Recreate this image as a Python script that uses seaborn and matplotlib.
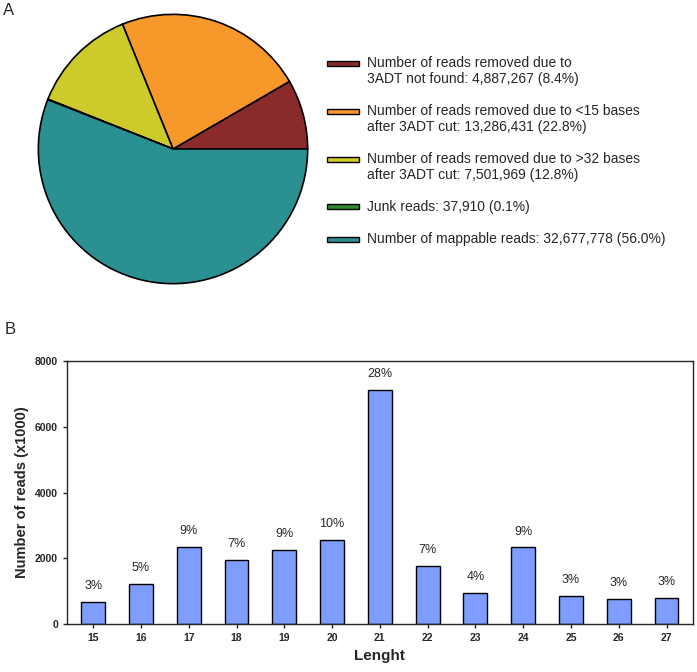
import numpy as np
import pandas as pd
import matplotlib
matplotlib.use("Agg")
import matplotlib.pyplot as plt
import seaborn as sns
from matplotlib.patches import Rectangle

# -----------------------------------
# Data
# -----------------------------------
pie_labels = [
    "Number of reads removed due to\n3ADT not found: 4,887,267 (8.4%)",
    "Number of reads removed due to <15 bases\nafter 3ADT cut: 13,286,431 (22.8%)",
    "Number of reads removed due to >32 bases\nafter 3ADT cut: 7,501,969 (12.8%)",
    "Junk reads: 37,910 (0.1%)",
    "Number of mappable reads: 32,677,778 (56.0%)",
]
pie_values = [4887267, 13286431, 7501969, 37910, 32677778]
pie_colors = ["#8b2a2b", "#f7982b", "#cccb2b", "#2f8a2f", "#2b9091"]

lengths = ["15", "16", "17", "18", "19", "20", "21", "22", "23", "24", "25", "26", "27"]
reads_k = [690, 1220, 2345, 1950, 2265, 2560, 7125, 1775, 965, 2335, 863, 772, 792]
pct_labels = ["3%", "5%", "9%", "7%", "9%", "10%", "28%", "7%", "4%", "9%", "3%", "3%", "3%"]

sns.set_style("ticks")
plt.rcParams["font.family"] = ["Liberation Sans", "DejaVu Sans"]

W, H = 697, 672
fig = plt.figure(figsize=(W / 100, H / 100), dpi=100)

# -----------------------------------
# Panel A: pie
# -----------------------------------
cx, cy, r = 173, 149, 136
ax_pie = fig.add_axes([(cx - r) / W, (H - cy - r) / H, 2 * r / W, 2 * r / H])
ax_pie.pie(
    pie_values, colors=pie_colors, startangle=0, counterclock=True,
    wedgeprops=dict(edgecolor="black", linewidth=1.2),
)
ax_pie.set_xlim(-1.01, 1.01)
ax_pie.set_ylim(-1.01, 1.01)
ax_pie.set_aspect("equal")

# legend: handle aligned with the first text line of each entry
line_step = 16
y = 63
for col, lab in zip(pie_colors, pie_labels):
    fig.add_artist(Rectangle(((327) / W, (H - y - 2.5) / H), 32 / W, 5 / H,
                             facecolor=col, edgecolor="black", linewidth=1.0,
                             transform=fig.transFigure))
    lines = lab.split("\n")
    for k, ln in enumerate(lines):
        fig.text(367 / W, (H - y - k * line_step) / H, ln, fontsize=10,
                 va="center", ha="left")
    y += len(lines) * line_step + line_step

fig.text(0.004, 1 - 3 / H, "A", fontsize=12, va="top")

# -----------------------------------
# Panel B: bar chart
# -----------------------------------
df = pd.DataFrame({"Lenght": lengths, "reads": reads_k})
ax_bar = fig.add_axes([0.096, 0.071, 0.898, 0.392])
sns.barplot(data=df, x="Lenght", y="reads", order=lengths, color="#7f9dfd",
            saturation=1, width=0.5, edgecolor="black", linewidth=1.0, ax=ax_bar)
for i, (v, p) in enumerate(zip(reads_k, pct_labels)):
    ax_bar.text(i, v + 300, p, ha="center", va="bottom", fontsize=9)

ax_bar.set_ylim(0, 8000)
ax_bar.set_xlim(-0.55, len(lengths) - 0.45)
ax_bar.set_yticks([0, 2000, 4000, 6000, 8000])
ax_bar.tick_params(axis="both", labelsize=7.5, length=3, width=1)
for lab in ax_bar.get_xticklabels() + ax_bar.get_yticklabels():
    lab.set_fontweight("bold")
ax_bar.set_xlabel("Lenght", fontsize=11, fontweight="bold")
ax_bar.set_ylabel("Number of reads (x1000)", fontsize=10.5, fontweight="bold")
for s in ax_bar.spines.values():
    s.set_linewidth(1.0)

fig.text(0.006, 1 - 322 / H, "B", fontsize=12, va="top")

fig.savefig("out.png", dpi=100)
